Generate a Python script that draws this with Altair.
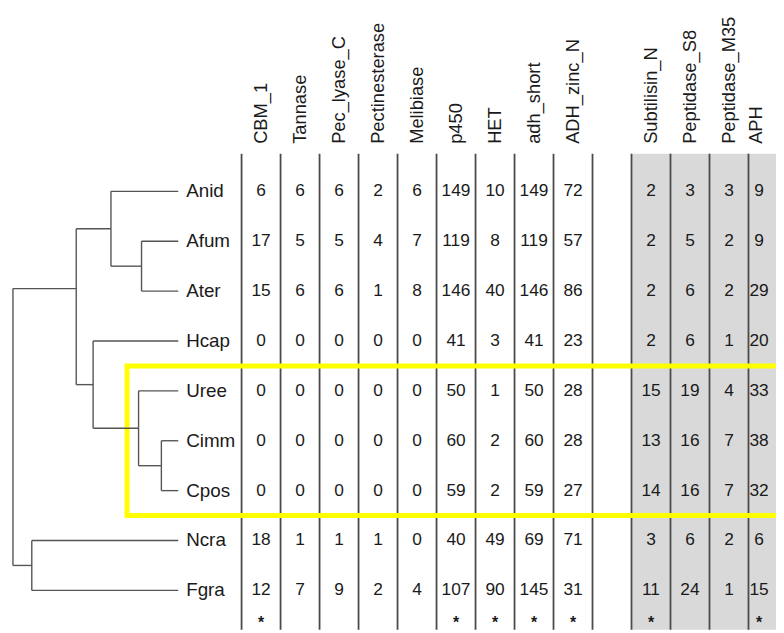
import altair as alt
import pandas as pd

# ---------------- data ----------------
taxa = ["Anid", "Afum", "Ater", "Hcap", "Uree", "Cimm", "Cpos", "Ncra", "Fgra"]
domains = ["CBM_1", "Tannase", "Pec_lyase_C", "Pectinesterase", "Melibiase",
           "p450", "HET", "adh_short", "ADH_zinc_N",
           "Subtilisin_N", "Peptidase_S8", "Peptidase_M35", "APH"]
# column slot of each domain (slot 9 is an empty spacer column)
slots = [0, 1, 2, 3, 4, 5, 6, 7, 8, 10, 11, 12, 13]
shaded_from_slot = 10

CBM_1 = [6, 17, 15, 0, 0, 0, 0, 18, 12]
Tannase = [6, 5, 6, 0, 0, 0, 0, 1, 7]
Pec_lyase_C = [6, 5, 6, 0, 0, 0, 0, 1, 9]
Pectinesterase = [2, 4, 1, 0, 0, 0, 0, 1, 2]
Melibiase = [6, 7, 8, 0, 0, 0, 0, 0, 4]
p450 = [149, 119, 146, 41, 50, 60, 59, 40, 107]
HET = [10, 8, 40, 3, 1, 2, 2, 49, 90]
adh_short = [149, 119, 146, 41, 50, 60, 59, 69, 145]
ADH_zinc_N = [72, 57, 86, 23, 28, 28, 27, 71, 31]
Subtilisin_N = [2, 2, 2, 2, 15, 13, 14, 3, 11]
Peptidase_S8 = [3, 5, 6, 6, 19, 16, 16, 6, 24]
Peptidase_M35 = [3, 2, 2, 1, 4, 7, 7, 2, 1]
APH = [9, 9, 29, 20, 33, 38, 32, 6, 15]
counts = [CBM_1, Tannase, Pec_lyase_C, Pectinesterase, Melibiase, p450, HET,
          adh_short, ADH_zinc_N, Subtilisin_N, Peptidase_S8, Peptidase_M35, APH]
significant = [True, False, False, False, False, True, True, True, True,
               True, False, False, True]

# cladogram: node, parent, depth (root = 0, tips = 1), row position
tree_nodes = ["root", "A", "NF", "Asp", "AA", "Ony", "UC", "CC"] + taxa
tree_parent = [None, "root", "root", "A", "Asp", "A", "Ony", "UC",
               "Asp", "AA", "AA", "Ony", "UC", "CC", "CC", "NF", "NF"]
tree_depth = [0.0, 0.383, 0.114, 0.593, 0.778, 0.485, 0.760, 0.898] + [1.0] * 9
tree_row = [4.7, 1.95, 7.5, 0.75, 1.5, 3.875, 4.75, 5.5] + list(range(9))

highlight_rows = (3.5, 6.5)   # Uree .. Cpos

# ---------------- tables ----------------
# the last column is cut by the page edge: keep its texts inside the visible part
LAST_NUM, LAST_HEAD = 13.27, 13.2

cells = []
for d, s, vals in zip(domains, slots, counts):
    for r, (t, v) in enumerate(zip(taxa, vals)):
        cells.append({"domain": d, "slot": min(s + 0.5, LAST_NUM), "row": r, "value": str(v)})
cells = pd.DataFrame(cells)

heads = pd.DataFrame({"domain": domains, "slot": [min(s + 0.5, LAST_HEAD) for s in slots]})
stars = pd.DataFrame({"slot": [min(s + 0.5, LAST_NUM) for s, g in zip(slots, significant) if g],
                      "row": [len(taxa) - 1] * sum(significant),
                      "mark": ["*"] * sum(significant)})
bounds = pd.DataFrame({"b": list(range(0, 15))})

depth_of = dict(zip(tree_nodes, tree_depth))
row_of = dict(zip(tree_nodes, tree_row))
segs = []
for n, p in zip(tree_nodes, tree_parent):
    if p is not None:
        segs.append({"x": depth_of[p], "x2": depth_of[n], "y": row_of[n], "y2": row_of[n]})
for n in tree_nodes:
    kids = [row_of[c] for c, p in zip(tree_nodes, tree_parent) if p == n]
    if kids:
        segs.append({"x": depth_of[n], "x2": depth_of[n], "y": min(kids), "y2": max(kids)})
segs = pd.DataFrame(segs)
tips = pd.DataFrame({"taxon": taxa, "row": list(range(9)), "depth": [1.0] * 9})

# ---------------- scales ----------------
W, H = 776, 625
COL_W, COL0 = 39.4, 236.0
ROW_H, ROW0 = 50.4, 182.0
TREE_W, TREE0 = 167.0, 5.0

xs = alt.Scale(domain=[-COL0 / COL_W, (W - COL0) / COL_W], range=[0, W], nice=False, zero=False)
xt = alt.Scale(domain=[-TREE0 / TREE_W, (W - TREE0) / TREE_W], range=[0, W], nice=False, zero=False)
ys = alt.Scale(domain=[-ROW0 / ROW_H, (H - ROW0) / ROW_H], range=[0, H], nice=False, zero=False)

table_top = -0.754
header_base = -0.952
FONT = "Liberation Sans"
INK = "#1a1a1a"

shade = alt.Chart(pd.DataFrame({"a": [shaded_from_slot], "b": [14.5]})).mark_rect(
    fill="#d9d9d9", clip=True).encode(
    x=alt.X("a:Q", scale=xs, axis=None), x2="b:Q",
    y=alt.Y("t:Q", scale=ys, axis=None), y2="e:Q"
).transform_calculate(t=str(table_top), e="9.5")

vlines = alt.Chart(bounds).mark_rule(color="#4a4a4a", strokeWidth=1.8, clip=True).encode(
    x=alt.X("b:Q", scale=xs, axis=None),
    y=alt.Y("t:Q", scale=ys, axis=None), y2="e:Q"
).transform_calculate(t=str(table_top), e="9.5")

box = alt.Chart(pd.DataFrame({"a": [-2.937], "b": [14.5],
                              "t": [highlight_rows[0]], "e": [highlight_rows[1]]})).mark_rect(
    fillOpacity=0, stroke="#ffff00", strokeWidth=5, clip=True).encode(
    x=alt.X("a:Q", scale=xs, axis=None), x2="b:Q",
    y=alt.Y("t:Q", scale=ys, axis=None), y2="e:Q")

numbers = alt.Chart(cells).mark_text(font=FONT, fontSize=17.5, color=INK,
                                     align="center", baseline="middle", clip=True).encode(
    x=alt.X("slot:Q", scale=xs, axis=None),
    y=alt.Y("row:Q", scale=ys, axis=None),
    text="value:N")

headers = alt.Chart(heads).mark_text(font=FONT, fontSize=18.5, color=INK, angle=270,
                                     align="left", baseline="middle", clip=True).encode(
    x=alt.X("slot:Q", scale=xs, axis=None),
    y=alt.Y("hb:Q", scale=ys, axis=None),
    text="domain:N").transform_calculate(hb=str(header_base))

asterisks = alt.Chart(stars).mark_text(font=FONT, fontSize=16, fontWeight="bold", color=INK, dy=38,
                                       align="center", baseline="alphabetic", clip=True).encode(
    x=alt.X("slot:Q", scale=xs, axis=None),
    y=alt.Y("row:Q", scale=ys, axis=None),
    text="mark:N")

table = alt.layer(shade, vlines, box, numbers, headers, asterisks)

branches = alt.Chart(segs).mark_rule(color="#555555", strokeWidth=1.4).encode(
    x=alt.X("x:Q", scale=xt, axis=None), x2="x2:Q",
    y=alt.Y("y:Q", scale=ys, axis=None), y2="y2:Q")

labels = alt.Chart(tips).mark_text(font=FONT, fontSize=19, color=INK, dx=8,
                                   align="left", baseline="middle").encode(
    x=alt.X("depth:Q", scale=xt, axis=None),
    y=alt.Y("row:Q", scale=ys, axis=None),
    text="taxon:N")

tree = alt.layer(branches, labels)

chart = alt.layer(table, tree).resolve_scale(x="independent").properties(
    width=W, height=H, padding=0, autosize=alt.AutoSizeParams(type="none")
).configure_view(stroke=None)

chart.save("out.html", embed_options={"renderer": "svg", "actions": False})
